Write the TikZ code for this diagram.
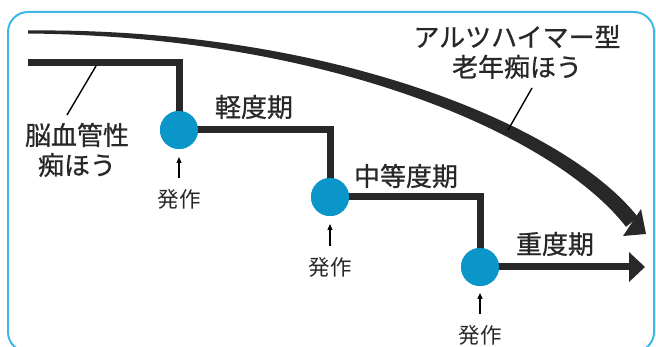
\documentclass[tikz,border=0pt]{standalone}
\usepackage{fontspec}
\setmainfont{Noto Sans CJK JP}
\newfontfamily\jpm[FakeBold=0.8]{Noto Sans CJK JP}
\usetikzlibrary{arrows.meta}
\definecolor{framecol}{RGB}{60,185,230}
\definecolor{dotcol}{RGB}{10,150,200}
\definecolor{inkcol}{RGB}{40,40,40}
\tikzset{
  big/.style={font=\jpm\fontsize{26}{30}\selectfont, text=inkcol, inner sep=0pt, align=center},
  small/.style={font=\fontsize{21.5}{24}\selectfont, text=inkcol, inner sep=0pt},
  dot/.style={circle, fill=dotcol, minimum size=38pt, inner sep=0pt},
  stair/.style={draw=inkcol, line width=7pt, line join=miter},
  leader/.style={draw=black, line width=1.4pt},
  onset/.style={draw=black, line width=1.2pt, -{Triangle[length=6pt,width=5pt]}},
}
\begin{document}
\begin{tikzpicture}[x=1pt,y=-1pt]
\useasboundingbox (0,0) rectangle (656,347);
\clip (0,0) rectangle (656,347);
% frame
\draw[framecol, line width=2pt, rounded corners=20pt] (8,12) rectangle (654,352);

% Alzheimer curve (tapered)
\fill[inkcol] (28,30.5) .. controls (330,27.5) and (565.5,125.2) .. (638,217.2)
  -- (626,226.8) .. controls (554.5,134.8) and (330,36.5) .. (28,33.5) -- cycle;
\fill[inkcol] (641,209) -- (646,234) -- (623,236) -- cycle;

% staircase
\coordinate (s0) at (28,63);
\coordinate (k1) at (179,63);
\coordinate (k2) at (330,130);
\coordinate (k3) at (480,197);
\coordinate (e) at (631,267);
\node[dot] (c1) at (179,130) {};
\node[dot] (c2) at (330,197) {};
\node[dot] (c3) at (480,267) {};
\draw[stair] (s0) -- (k1) -- (c1.center) -- (k2) -- (c2.center) -- (k3) -- (c3.center) -- (e);
\fill[inkcol] (629,252) -- (645,267) -- (629,282) -- cycle;
\node[dot] at (c1) {};
\node[dot] at (c2) {};
\node[dot] at (c3) {};

% labels
\node[big] (vasc) at (77,150) {脳血管性\\痴ほう};
\coordinate (vascA) at (67,115);
\coordinate (vascB) at (96,66);
\draw[leader] (vascA) -- (vascB);

\node[big] (alz) at (517,52) {アルツハイマー型\\老年痴ほう};
\coordinate (alzA) at (532,88);
\coordinate (alzB) at (508,130);
\draw[leader] (alzA) -- (alzB);

\node[big] (mild) at (254,107) {軽度期};
\node[big] (mod) at (406,176) {中等度期};
\node[big] (sev) at (555,244) {重度期};

\node[small] (h1) at (179,199) {発作};
\node[small] (h2) at (330,267) {発作};
\node[small] (h3) at (480,335) {発作};
\coordinate (a1) at (179,178);
\coordinate (a2) at (330,246);
\coordinate (a3) at (480,314);
\coordinate (t1) at (179,157);
\coordinate (t2) at (330,224);
\coordinate (t3) at (480,293);
\draw[onset] (a1) -- (t1);
\draw[onset] (a2) -- (t2);
\draw[onset] (a3) -- (t3);
\end{tikzpicture}
\end{document}
